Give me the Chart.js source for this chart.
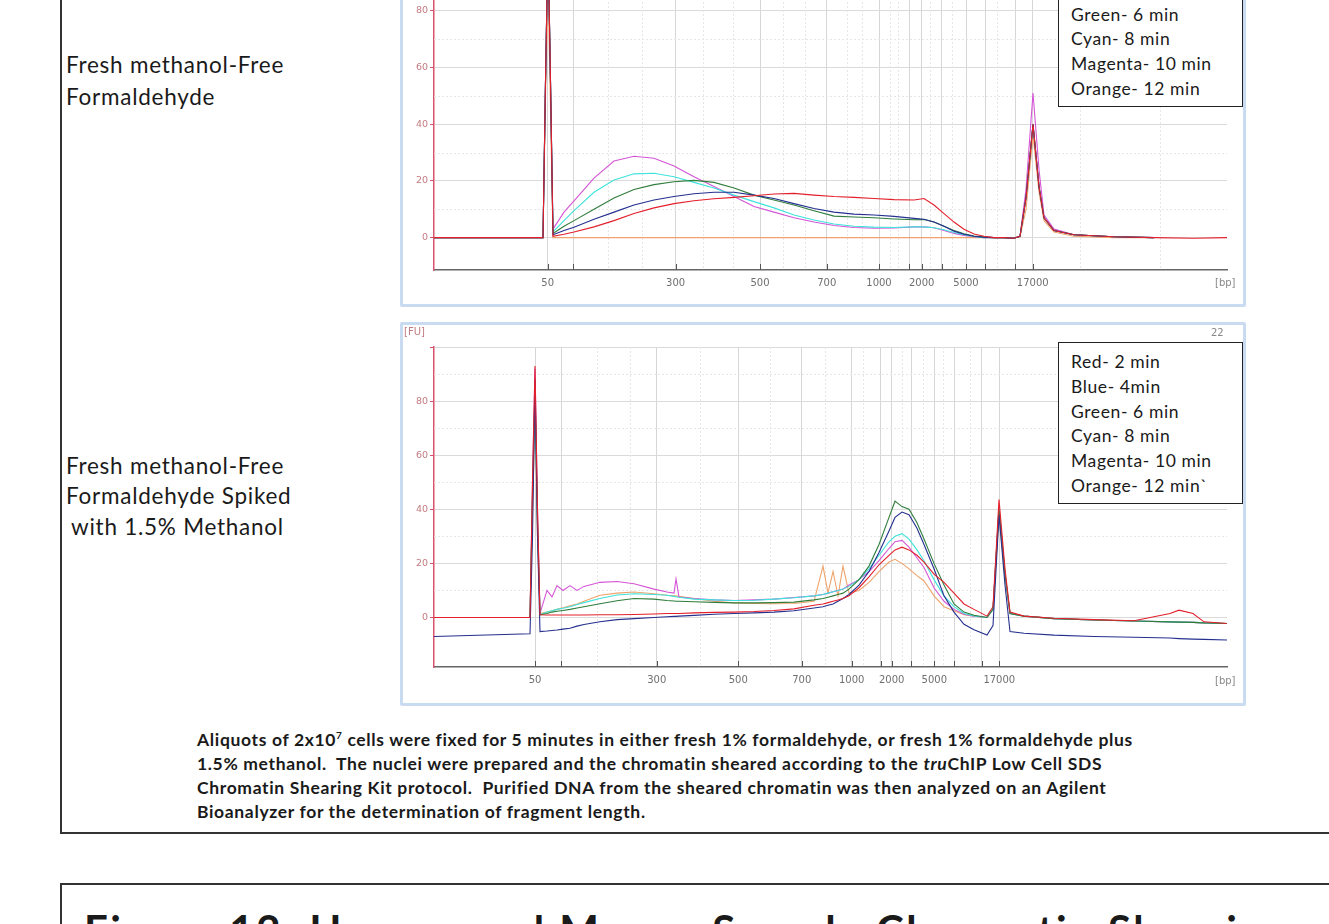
<!DOCTYPE html>
<html>
<head>
<meta charset="utf-8">
<script src="https://cdn.jsdelivr.net/npm/chart.js@4.4.1/dist/chart.umd.min.js"></script>
<style>
  body { margin:0; width:1329px; height:924px; overflow:hidden; background:#fff; position:relative;
         font-family: Lato, "Open Sans", sans-serif; color:#1a1a1a; }
  .frame { position:absolute; border:2px solid #333; }
  .panel { position:absolute; border:3px solid #c9dbf0; background:#fff; border-radius:2px; }
  .side { position:absolute; left:66px; font-size:22.5px; letter-spacing:0.75px; white-space:nowrap; }
  .legend { position:absolute; border:1.5px solid #222; background:#fff; font-size:17.5px; letter-spacing:0.6px;
            line-height:24.8px; padding:7px 0 0 12px; box-sizing:border-box; white-space:nowrap; }
  .caption { position:absolute; left:197px; top:728px; font-weight:bold; font-size:17.5px; letter-spacing:0.65px;
             line-height:24px; white-space:pre; }
  .tag { position:absolute; font-family:"DejaVu Sans", sans-serif; font-size:10px; color:#888; }
  canvas { position:absolute; }
</style>
</head>
<body>

<div class="frame" style="left:60px; top:-10px; width:1300px; height:840px;"></div>
<div class="frame" style="left:60px; top:883px; width:1300px; height:100px;"></div>
<div style="position:absolute; left:84px; top:909px; font-weight:bold; font-size:42px; line-height:42px; letter-spacing:2.5px; white-space:nowrap;">Figure 12: Human and Mouse Sample Chromatin Shearing</div>

<div class="side" style="top:48.5px; line-height:32px;">Fresh methanol-Free<br>Formaldehyde</div>
<div class="side" style="top:450.5px; line-height:30.5px;">Fresh methanol-Free<br>Formaldehyde Spiked<br><span style="padding-left:5px">with 1.5% Methanol</span></div>

<div class="panel" style="left:400px; top:-70px; width:840px; height:371px;"></div>
<div class="panel" style="left:400px; top:322px; width:840px; height:378px;"></div>

<canvas id="topChart" width="840" height="373" style="left:403px; top:-68px;"></canvas>
<canvas id="bottomChart" width="840" height="377" style="left:403px; top:325px;"></canvas>

<div class="tag" style="left:1215px; top:277px;">[bp]</div>
<div class="tag" style="left:1215px; top:675px;">[bp]</div>
<div class="tag" style="left:404px; top:326px; color:#c47a80;">[FU]</div>
<div class="tag" style="left:1211px; top:327px;">22</div>

<div class="legend" style="left:1058px; top:-55px; width:185px; height:162px;">Red- 2 min<br>Blue- 4min<br>Green- 6 min<br>Cyan- 8 min<br>Magenta- 10 min<br>Orange- 12 min</div>
<div class="legend" style="left:1058px; top:342px; width:185px; height:162px;">Red- 2 min<br>Blue- 4min<br>Green- 6 min<br>Cyan- 8 min<br>Magenta- 10 min<br>Orange- 12 min`</div>

<div class="caption">Aliquots of 2x10<sup style="font-size:10px; line-height:0">7</sup> cells were fixed for 5 minutes in either fresh 1% formaldehyde, or fresh 1% formaldehyde plus
1.5% methanol.  The nuclei were prepared and the chromatin sheared according to the <i>tru</i>ChIP Low Cell SDS
Chromatin Shearing Kit protocol.  Purified DNA from the sheared chromatin was then analyzed on an Agilent
Bioanalyzer for the determination of fragment length.</div>

<script>
// Series names / colours (same for both runs)
const seriesNames = ['Red', 'Blue', 'Green', 'Cyan', 'Magenta', 'Orange'];
const seriesColors = ['#e3202c', '#25308f', '#2f7d3c', '#3ee3dc', '#d455d6', '#eea36c'];

// Size axis: ladder labels at their migration positions
const xTickLabels = ['50', '', '300', '500', '700', '1000', '', '2000', '', '5000', '', '', '17000'];
const topTickPos = [11.37, 13.9, 24.16, 32.6, 39.27, 44.5, 47.5, 48.77, 50.77, 53.2, 55.1, 58.1, 59.87];
const bottomTickPos = [10.1, 12.7, 22.27, 30.43, 36.77, 41.77, 44.67, 45.77, 47.7, 50.03, 52, 54.77, 56.53];
const topMinorX = [17.4, 20.8, 26.9, 29.9, 34.9, 37.1, 41.3, 42.8, 45.6, 46.4, 49.6, 51.8, 56.3, 64.6, 72.6];
const bottomMinorX = [16.3, 19.6, 26.6, 33.6, 39.1, 42.9, 46.8, 48.9, 50.9, 53.6];
const yTicks = [0, 20, 40, 60, 80, 100];
const yMinor = [10, 30, 50, 70, 90];

// Top run: fresh methanol-free formaldehyde (FU)
const topX = [0, 10.9, 11.15, 11.4, 11.65, 11.9, 13, 14, 16, 18, 20, 22, 24, 26, 28, 30,
  32, 34, 36, 38, 40, 42, 44, 46, 48, 49, 50, 51, 52, 53, 54, 55, 56, 57, 58, 58.6,
  59.2, 59.9, 60.5, 61, 62, 64, 68, 72, 76, 79.3];
const topRed = [0, 0, 55, 105, 55, 0.5, 1.2, 2, 3.8, 6, 8.5, 10.5, 12, 13, 13.7, 14.2,
  14.8, 15.4, 15.6, 15, 14.5, 14.2, 13.8, 13.4, 13.3, 13.8, 11.5, 8.5, 5.5, 3, 1.3, 0.5, 0, 0, -0.2, 0.5,
  14, 40, 18, 7, 2.5, 1, 0.3, 0, -0.2, 0];
const topBlue = [0, 0, 55, 105, 55, 1, 2.5, 3.7, 6.5, 9, 11.5, 13.3, 14.5, 15.5, 16, 16,
  15, 13.8, 12, 10.3, 9, 8.3, 8, 7.5, 6.8, 6.5, 5.5, 4, 2.3, 1.2, 0.5, 0.2, 0, 0, -0.2, 0.5,
  14, 40, 18, 7, 2.5, 1, 0.3, 0, null, null];
const topGreen = [0, 0, 55, 105, 55, 1.5, 4, 6, 10, 14, 17, 18.7, 19.7, 20.2, 19.5, 17.5,
  15, 13.3, 11.5, 9.5, 7.6, 7.3, 7, 6.6, 6.3, 6.4, 5.5, 4, 2.5, 1.4, 0.6, 0.2, 0, 0, -0.2, 0.5,
  14, 40, 18, 7, 2.5, 1, 0.3, 0, null, null];
const topCyan = [0, 0, 55, 105, 55, 2, 6, 9.5, 16, 20.3, 22.5, 22.7, 21.5, 19.5, 17.5, 15,
  12.7, 10.5, 8, 6.2, 4.8, 4, 3.7, 3.6, 3.8, 3.8, 3.5, 2.8, 1.8, 1, 0.4, 0, 0, 0, -0.2, 0.5,
  14, 40, 18, 7, 2.5, 1, 0.3, 0, null, null];
const topMagenta = [0, 0, 55, 105, 55, 3, 9, 13, 21, 27, 28.7, 28, 25.3, 21.5, 18, 14.5,
  11, 9, 7, 5.5, 4.3, 3.6, 3.3, 3.4, 3.8, 3.8, 3.5, 2.5, 1.5, 0.8, 0.3, 0, 0, 0, -0.2, 0.5,
  17, 51, 24, 8, 3, 1, 0.3, 0, null, null];
const topOrange = [0, 0, 50, 90, 45, 0, 0, 0, 0, 0, 0, 0, 0, 0, 0, 0,
  0, 0, 0, 0, 0, 0, 0, 0, 0, 0, 0, 0, 0, 0, 0, 0, 0, 0, 0, 0.3,
  10, 36, 16, 6, 2, 0.5, 0, 0, null, null];

// Bottom run: spiked with 1.5% methanol (FU)
const bottomX = [0, 9.6, 9.85, 10.1, 10.35, 10.6, 11.3, 11.8, 12.3, 12.9, 13.6, 14.3, 15,
  16.6, 18.3, 20, 22, 23.3, 24, 24.2, 24.5, 26, 28, 30, 32, 34, 36, 38,
  38.9, 39.4, 39.9, 40.4, 40.9, 41.5, 42.5, 43.5, 44.5, 45.5, 46.1, 46.8, 47.5, 48.3, 49,
  50, 51, 52, 53, 54, 55.3, 55.9, 56.5, 57.1, 57.6, 59, 62, 66, 70, 73.6, 74.5, 75.9, 77, 79.3];
const bottomRed = [0, 0, 50, 93, 40, 1, 0.9, 0.9, 0.9, 0.9, 0.9, 0.9, 0.9,
  1, 1, 1.1, 1.3, 1.5, 1.5, 1.5, 1.5, 1.7, 1.9, 2, 2.2, 2.6, 3.2, 4.5,
  5, 5.5, 6, 6.5, 7, 8, 11, 15, 19.5, 23, 25, 26, 25, 23, 20.5,
  16, 13, 9, 5, 3, 0.5, 4, 43.6, 18, 2, 0.5, -0.3, -0.8, -1.2, 1.5, 2.7, 1.5, -1.6, -2.2];
const bottomBlue = [-7, -6, 30, 88, 30, -5.2, -5, -4.8, -4.6, -4.3, -4, -3.2, -2.6,
  -1.6, -0.8, -0.4, 0, 0.3, 0.4, 0.4, 0.5, 0.8, 1.2, 1.5, 1.7, 2, 2.5, 3.5,
  4, 4.5, 5, 6, 7, 8.5, 12, 17, 24, 32, 37, 39, 38, 33, 27,
  18, 8, 2, -2.5, -4.5, -6.5, -3, 38, 12, -5.2, -5.8, -6.5, -7, -7.3, -7.6, -7.8, -8, -8.1, -8.3];
const bottomGreen = [0, 0, 45, 85, 35, 1, 1.5, 2, 2.3, 2.6, 3, 3.5, 4,
  5.1, 6.2, 7, 6.8, 6.3, 6.1, 6, 6, 5.8, 5.6, 5.4, 5.4, 5.5, 5.7, 6.5,
  7, 7.5, 8, 8.5, 9, 10.5, 14, 19, 27, 37, 43, 41, 40, 35, 29,
  20, 12, 5, 2, 0.8, 0, 3, 40, 16, 1.5, 0.5, -0.4, -0.9, -1.3, -1.6, -1.7, -1.8, -2, -2.2];
const bottomCyan = [0, 0, 45, 80, 35, 1, 2, 2.5, 3, 3.4, 4, 4.8, 5.5,
  7, 8.3, 8.8, 8.5, 8.2, 7.8, 7.7, 7.5, 6.8, 6.5, 6.3, 6.4, 6.8, 7.3, 8,
  8.5, 9, 9.5, 10, 10.5, 11.5, 14, 18, 23, 28, 30, 31, 29, 25, 21,
  14, 8, 4, 1.5, 0.6, 0, 3, 40, 16, 1.5, 0.5, -0.4, -0.9, -1.3, -1.6, -1.7, -1.8, -2, -2.2];
const bottomMagenta = [0, 0, 50, 92, 40, 1.5, 10, 7.6, 11.8, 10, 11.8, 10, 11.5,
  13, 13.3, 12.5, 10.5, 9.4, 9, 14.3, 7.6, 7, 6.5, 6.3, 6.5, 6.8, 7.4, 8,
  8.5, 9, 9.5, 10, 10.5, 12, 14, 17, 21, 25.5, 28, 28.5, 26, 22, 18.5,
  11, 6, 3, 1.2, 0.5, 0, 3, 41, 16, 1.5, 0.5, -0.4, -0.9, -1.3, -1.6, -1.7, -1.8, -2, -2.2];
const bottomOrange = [0, 0, 40, 75, 30, 1.5, 2, 2.5, 3, 3.6, 4.3, 5, 6,
  8.2, 9, 9.4, 8.8, 8.2, 8, 8, 7.8, 7, 6, 5.4, 5.2, 5.1, 5.2, 6,
  19, 9, 17, 8, 19, 9, 10, 13, 17, 20.5, 21.5, 20, 18, 15.5, 13.5,
  8, 4, 2.5, 1, 0.5, 0, 3, 38, 15, 1.5, 0.5, -0.4, -0.9, -1.3, -1.6, -1.7, -1.8, -2, -2.2];

// dashed minor grid + short inward ticks on the size axis
const electroGrid = {
    id: 'electroGrid',
    beforeDatasetsDraw(chart, args, opts) {
        const { ctx, chartArea: a, scales: { x, y } } = chart;
        ctx.save();
        ctx.lineWidth = 1;
        ctx.strokeStyle = '#e6e6e6';
        ctx.setLineDash([2, 2]);
        opts.minorX.forEach(v => {
            const px = Math.round(x.getPixelForValue(v)) + 0.5;
            ctx.beginPath(); ctx.moveTo(px, a.top); ctx.lineTo(px, a.bottom); ctx.stroke();
        });
        yMinor.forEach(v => {
            const py = Math.round(y.getPixelForValue(v)) + 0.5;
            ctx.beginPath(); ctx.moveTo(a.left, py); ctx.lineTo(a.right, py); ctx.stroke();
        });
        ctx.setLineDash([]);
        ctx.strokeStyle = '#555';
        x.ticks.forEach(t => {
            const px = Math.round(x.getPixelForValue(t.value)) + 0.5;
            ctx.beginPath(); ctx.moveTo(px, a.bottom); ctx.lineTo(px, a.bottom - 6); ctx.stroke();
        });
        ctx.restore();
    }
};

function makeChart(id, xs, ys, tickPos, minorX, yMin, padTop) {
    const datasets = ys.map((vals, i) => ({
        label: seriesNames[i],
        data: xs.map((x, j) => ({ x: x, y: vals[j] })),
        borderColor: seriesColors[i],
        borderWidth: 1.1,
        pointRadius: 0,
        tension: 0,
        spanGaps: false
    }));

    return new Chart(document.getElementById(id), {
        type: 'line',
        data: { datasets },
        plugins: [electroGrid],
        options: {
            responsive: false,
            animation: false,
            devicePixelRatio: 1,
            layout: { padding: { top: padTop, right: 16, left: 0, bottom: 0 } },
            plugins: {
                legend: { display: false },
                tooltip: { enabled: false },
                electroGrid: { minorX: minorX }
            },
            scales: {
                x: {
                    type: 'linear',
                    min: 0,
                    max: 79.3,
                    afterBuildTicks: axis => { axis.ticks = tickPos.map(v => ({ value: v })); },
                    afterFit: axis => { axis.height = 35; },
                    ticks: {
                        autoSkip: false,
                        maxRotation: 0,
                        padding: 7,
                        color: '#6f6f6f',
                        font: { family: 'DejaVu Sans', size: 10 },
                        callback: (v, i) => xTickLabels[i]
                    },
                    grid: { color: '#d6d6d6', drawTicks: false },
                    border: { color: '#666', width: 1.5 }
                },
                y: {
                    min: yMin,
                    max: 100,
                    afterBuildTicks: axis => { axis.ticks = yTicks.map(v => ({ value: v })); },
                    afterFit: axis => { axis.width = 31; },
                    ticks: {
                        padding: 2,
                        color: '#c47a80',
                        font: { family: 'DejaVu Sans', size: 9.5 },
                        callback: v => (v === 100 ? '' : v)
                    },
                    grid: { color: '#dadada', tickColor: '#d9536b', tickLength: 4 },
                    border: { color: '#d9536b', width: 1.5 }
                }
            }
        }
    });
}

makeChart('topChart', topX,
    [topRed, topBlue, topGreen, topCyan, topMagenta, topOrange],
    topTickPos, topMinorX, -11.4, 22);

makeChart('bottomChart', bottomX,
    [bottomRed, bottomBlue, bottomGreen, bottomCyan, bottomMagenta, bottomOrange],
    bottomTickPos, bottomMinorX, -18.3, 22);
</script>
</body>
</html>
